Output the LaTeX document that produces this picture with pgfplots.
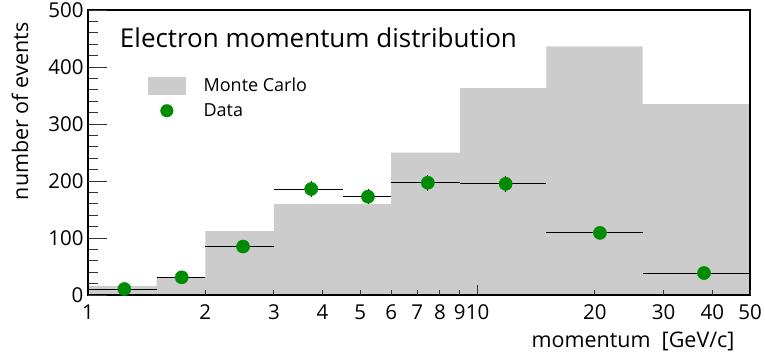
\documentclass[border=0pt]{standalone}
\usepackage{pgfplots}
\pgfplotsset{compat=1.18}
\usepackage{fontspec}
\setmainfont{Open Sans}
\definecolor{mcgray}{RGB}{204,204,204}
\definecolor{datagreen}{RGB}{0,140,0}

\begin{document}
\begin{tikzpicture}
\useasboundingbox (-88pt,-59pt) rectangle (677pt,295pt);
\begin{axis}[
    scale only axis,
    width=662pt, height=285pt,
    xmode=log,
    xmin=1, xmax=50,
    ymin=0, ymax=500,
    axis on top,
    axis line style={line width=1.4pt},
    tick align=inside,
    xtick pos=bottom, ytick pos=left,
    major tick length=10pt,
    every tick/.style={line width=0.9pt, black!80},
    xtick={1,10}, xticklabels={1,10},
    minor xtick={},
    extra x ticks={2,3,4,5,6,7,8,9,20,30,40,50},
    extra x tick labels={2,3,4,5,6,7,8,9,20,30,40,50},
    extra x tick style={major tick length=5pt, xtick pos=bottom},
    ytick={0,20,...,500}, yticklabels={},
    extra y ticks={0,100,200,300,400,500},
    extra y tick labels={0,100,200,300,400,500},
    extra y tick style={major tick length=19pt, ytick pos=left},
    tick label style={font=\fontsize{20.5}{24}\selectfont},
    xticklabel style={yshift=-6pt},
    yticklabel style={xshift=-1pt},
    xlabel={momentum\ \ [GeV/c]},
    xlabel style={font=\fontsize{21.5}{25}\selectfont, at={(axis description cs:0.982,0)}, anchor=base east, yshift=-52pt},
    ylabel={number of events},
    ylabel style={font=\fontsize{21.5}{25}\selectfont, at={(axis description cs:-0.0906,0.968)}, anchor=base east},
    legend style={draw=none, fill=none, at={(rel axis cs:0.0906,0.765)}, anchor=north west,
      inner sep=0pt, nodes={inner sep=0pt}, column sep=18pt, row sep=9pt,
      font=\fontsize{18}{22}\selectfont},
    legend cell align=left,
  ]
  % Monte Carlo histogram, bin edges 1 1.5 2 3 4.5 6 9 15 26.5 50
  \addplot[const plot, fill=mcgray, draw=none, forget plot] coordinates {
    (1,16) (1.5,32) (2,112) (3,160) (4.5,160) (6,250)
    (9,363) (15,436) (26.5,335) (50,335)
  } \closedcycle;
  \addlegendimage{legend image code/.code={
      \fill[mcgray] (0pt,-8.5pt) rectangle (37pt,8.5pt);}}
  % data with bin width as x error and sqrt(N) as y error
  \addplot[only marks, mark=*, mark size=6.6pt, color=datagreen,
    legend image code/.code={
      \path[draw=none, fill=none] (0pt,-1pt) rectangle (37pt,1pt);
      \fill[datagreen] (18.5pt,0pt) circle (6.3pt);},
    error bars/.cd, x dir=both, x explicit, y dir=both, y explicit,
    error mark=none, error bar style={black, line width=0.9pt}]
  coordinates {
    (1.24,10.5)  += (0.26,3.2)  -= (0.24,3.2)
    (1.74,31)    += (0.26,5.6)  -= (0.24,5.6)
    (2.5,85)     += (0.5,9.2)   -= (0.5,9.2)
    (3.74,186)   += (0.76,13.6) -= (0.74,13.6)
    (5.23,172.5) += (0.77,13.1) -= (0.73,13.1)
    (7.45,197)   += (1.55,14)   -= (1.45,14)
    (11.8,195)   += (3.2,14)    -= (2.8,14)
    (20.6,109)   += (5.9,10.4)  -= (5.6,10.4)
    (38.1,38.6)  += (11.9,6.2)  -= (11.6,6.2)
  };
  \legend{Monte Carlo, Data}
  \node[anchor=base west, font=\fontsize{26}{30}\selectfont, inner sep=0pt]
    at (axis description cs:0.048,0.870) {Electron momentum distribution};
\end{axis}
\end{tikzpicture}
\end{document}
